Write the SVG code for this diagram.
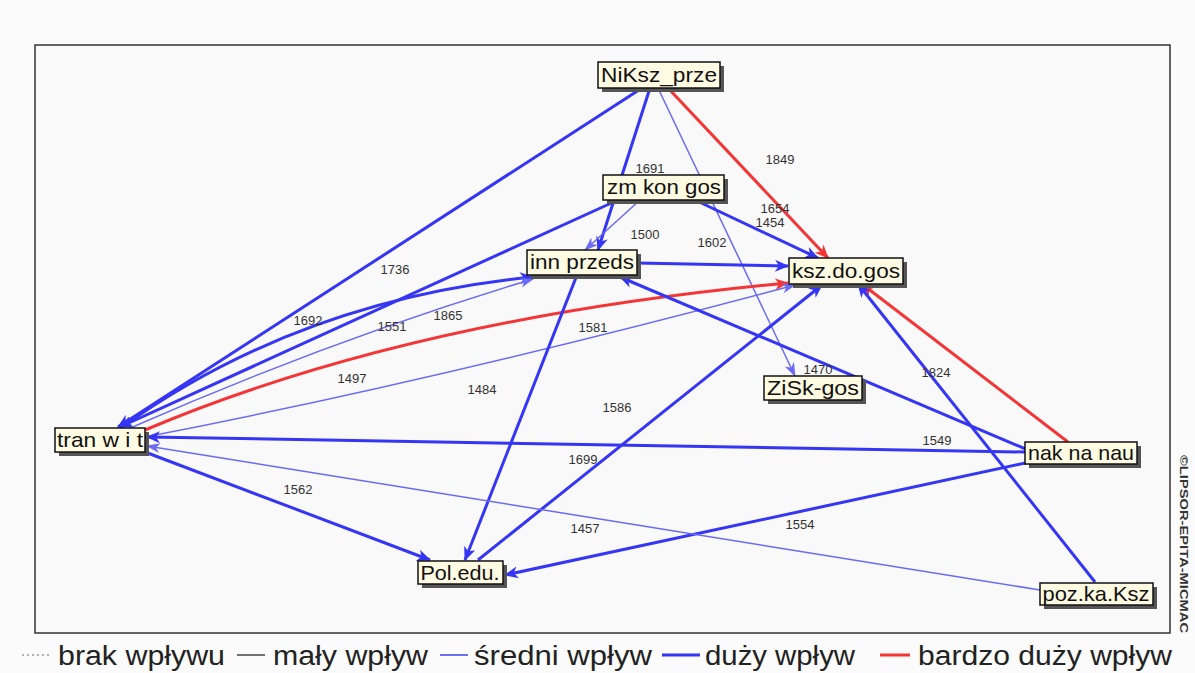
<svg xmlns="http://www.w3.org/2000/svg" width="1195" height="673" viewBox="0 0 1195 673">
<defs>
<marker id="ab" markerUnits="userSpaceOnUse" markerWidth="16" markerHeight="12" refX="13" refY="6" orient="auto"><path d="M0,0 L14,6 L0,12 L4,6 z" fill="#3535f5"/></marker>
<marker id="abt" markerUnits="userSpaceOnUse" markerWidth="16" markerHeight="12" refX="13" refY="6" orient="auto"><path d="M0,1 L14,6 L0,11 L4,6 z" fill="#6a6af5"/></marker>
<marker id="ar" markerUnits="userSpaceOnUse" markerWidth="16" markerHeight="12" refX="13" refY="6" orient="auto"><path d="M0,0 L14,6 L0,12 L4,6 z" fill="#f53535"/></marker>
</defs>
<style>
.bt{fill:none;stroke:#3535f5;stroke-width:3;marker-end:url(#ab)}
.bn{fill:none;stroke:#6a6af5;stroke-width:1.5;marker-end:url(#abt)}
.rd{fill:none;stroke:#f53535;stroke-width:3;marker-end:url(#ar)}
.lb{font-family:"Liberation Sans",Arial,sans-serif;font-size:13px;fill:#333;text-anchor:middle}
.nb{fill:#fffbe3;stroke:#111;stroke-width:1.5}
.sh{fill:#555}
.nt{font-family:"Liberation Sans",Arial,sans-serif;font-size:21px;fill:#111;text-anchor:middle}
.lg{font-family:"Liberation Sans",Arial,sans-serif;font-size:27px;fill:#222}
</style>
<rect x="0" y="0" width="1195" height="673" fill="#fbfbfb"/>
<rect x="35" y="45" width="1135" height="588" fill="#f9f9f9" stroke="#333" stroke-width="1.5"/>
<g id="connectors">
<path class="bt" d="M642,88 L118,427"/>
<path class="bt" d="M650,88 L598,250"/>
<path class="bn" d="M658,88 L795,376"/>
<path class="rd" d="M668,88 L828,258"/>
<path class="bn" d="M640,200 L585,250"/>
<path class="bt" d="M695,200 L818,258"/>
<path class="bt" d="M618,200 L120,427"/>
<path class="bt" d="M122,427 Q300,300 533,277"/>
<path class="bn" d="M128,429 Q330,340 533,279"/>
<path class="rd" d="M145,430 Q410,318 788,283"/>
<path class="bn" d="M145,437 Q440,380 795,285"/>
<path class="bt" d="M637,263 L788,266"/>
<path class="bt" d="M577,275 L465,560"/>
<path class="bt" d="M478,560 L822,285"/>
<path class="rd" d="M1068,442 L862,284"/>
<path class="bt" d="M1028,450 L620,277"/>
<path class="bt" d="M1025,452 L147,437"/>
<path class="bt" d="M1030,462 L505,575"/>
<path class="bt" d="M1095,582 L858,284"/>
<path class="bn" d="M1040,590 L147,446"/>
<path class="bt" d="M145,452 L430,560"/>
<text class="lb" x="395" y="274">1736</text>
<text class="lb" x="308" y="325">1692</text>
<text class="lb" x="392" y="331">1551</text>
<text class="lb" x="448" y="320">1865</text>
<text class="lb" x="352" y="383">1497</text>
<text class="lb" x="482" y="394">1484</text>
<text class="lb" x="593" y="332">1581</text>
<text class="lb" x="645" y="239">1500</text>
<text class="lb" x="712" y="247">1602</text>
<text class="lb" x="650" y="173">1691</text>
<text class="lb" x="780" y="164">1849</text>
<text class="lb" x="775" y="213">1654</text>
<text class="lb" x="770" y="227">1454</text>
<text class="lb" x="818" y="374">1470</text>
<text class="lb" x="936" y="377">1824</text>
<text class="lb" x="617" y="412">1586</text>
<text class="lb" x="583" y="464">1699</text>
<text class="lb" x="937" y="445">1549</text>
<text class="lb" x="298" y="494">1562</text>
<text class="lb" x="585" y="533">1457</text>
<text class="lb" x="800" y="529">1554</text>
</g>
<g id="n-NiKsz_prze"><rect class="sh" x="602" y="66" width="122" height="26"/><rect class="nb" x="598" y="62" width="122" height="26"/><text class="nt" x="659" y="82" textLength="116" lengthAdjust="spacingAndGlyphs">NiKsz_prze</text></g>
<g id="n-zm_kon_gos"><rect class="sh" x="607" y="179" width="121" height="25"/><rect class="nb" x="603" y="175" width="121" height="25"/><text class="nt" x="664" y="194" textLength="114" lengthAdjust="spacingAndGlyphs">zm kon gos</text></g>
<g id="n-inn_przeds"><rect class="sh" x="531" y="254" width="110" height="25"/><rect class="nb" x="527" y="250" width="110" height="25"/><text class="nt" x="582" y="269" textLength="104" lengthAdjust="spacingAndGlyphs">inn przeds</text></g>
<g id="n-ksz_do_gos"><rect class="sh" x="793" y="262" width="114" height="26"/><rect class="nb" x="789" y="258" width="114" height="26"/><text class="nt" x="846" y="278" textLength="108" lengthAdjust="spacingAndGlyphs">ksz.do.gos</text></g>
<g id="n-ZiSk-gos"><rect class="sh" x="768" y="380" width="98" height="24"/><rect class="nb" x="764" y="376" width="98" height="24"/><text class="nt" x="813" y="395" textLength="92" lengthAdjust="spacingAndGlyphs">ZiSk-gos</text></g>
<g id="n-tran_w_i_t"><rect class="sh" x="59" y="432" width="90" height="24"/><rect class="nb" x="55" y="428" width="90" height="24"/><text class="nt" x="100" y="447" textLength="86" lengthAdjust="spacingAndGlyphs">tran w i t</text></g>
<g id="n-nak_na_nau"><rect class="sh" x="1029" y="446" width="112" height="22"/><rect class="nb" x="1025" y="442" width="112" height="22"/><text class="nt" x="1081" y="460" textLength="106" lengthAdjust="spacingAndGlyphs">nak na nau</text></g>
<g id="n-Pol_edu"><rect class="sh" x="422" y="565" width="85" height="23"/><rect class="nb" x="418" y="561" width="85" height="23"/><text class="nt" x="460" y="580" textLength="79" lengthAdjust="spacingAndGlyphs">Pol.edu.</text></g>
<g id="n-poz_ka_Ksz"><rect class="sh" x="1044" y="587" width="113" height="22"/><rect class="nb" x="1040" y="583" width="113" height="22"/><text class="nt" x="1096" y="601" textLength="107" lengthAdjust="spacingAndGlyphs">poz.ka.Ksz</text></g>
<g id="legend">
<line x1="22" y1="655" x2="50" y2="655" stroke="#999" stroke-width="1.5" stroke-dasharray="2,3"/>
<text class="lg" x="58" y="665" textLength="167" lengthAdjust="spacingAndGlyphs">brak wpływu</text>
<line x1="237" y1="655" x2="265" y2="655" stroke="#444" stroke-width="1.5"/>
<text class="lg" x="273" y="665" textLength="155" lengthAdjust="spacingAndGlyphs">mały wpływ</text>
<line x1="440" y1="655" x2="468" y2="655" stroke="#4040f5" stroke-width="1.5"/>
<text class="lg" x="474" y="665" textLength="178" lengthAdjust="spacingAndGlyphs">średni wpływ</text>
<line x1="662" y1="655" x2="700" y2="655" stroke="#3535f5" stroke-width="3"/>
<text class="lg" x="705" y="665" textLength="150" lengthAdjust="spacingAndGlyphs">duży wpływ</text>
<line x1="880" y1="655" x2="910" y2="655" stroke="#f53535" stroke-width="3"/>
<text class="lg" x="918" y="665" textLength="254" lengthAdjust="spacingAndGlyphs">bardzo duży wpływ</text>
</g>
<text x="1180" y="455" transform="rotate(90 1180 455)" font-family="'Liberation Sans',Arial,sans-serif" font-size="11" font-weight="bold" fill="#333" textLength="178" lengthAdjust="spacingAndGlyphs">©LIPSOR-EPITA-MICMAC</text>
</svg>
